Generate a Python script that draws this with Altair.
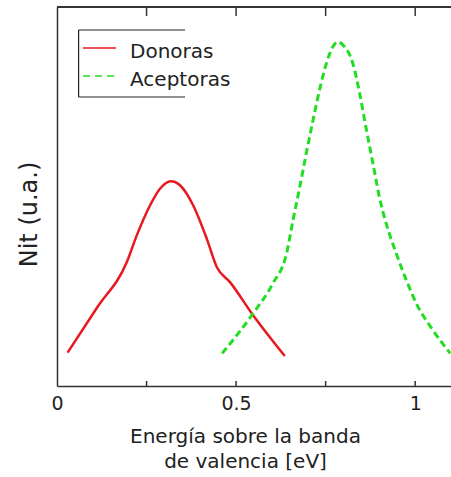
import altair as alt
import pandas as pd

# Series: Nit density of trap states vs energy above the valence band
donor_x = [0.0295, 0.112, 0.195, 0.223, 0.260, 0.288, 0.318, 0.344, 0.380, 0.418, 0.446, 0.483, 0.548, 0.636]
donor_y = [0.088, 0.207, 0.327, 0.398, 0.477, 0.521, 0.540, 0.529, 0.477, 0.389, 0.314, 0.274, 0.186, 0.079]

acceptor_x = [0.461, 0.548, 0.603, 0.641, 0.659, 0.678, 0.696, 0.715, 0.733, 0.752, 0.770, 0.784,
              0.798, 0.826, 0.845, 0.864, 0.882, 0.900, 0.919, 0.947, 0.975, 1.003, 1.049, 1.098]
acceptor_y = [0.086, 0.192, 0.271, 0.350, 0.438, 0.526, 0.614, 0.702, 0.781, 0.851, 0.895, 0.908,
              0.900, 0.851, 0.772, 0.675, 0.588, 0.499, 0.429, 0.350, 0.280, 0.218, 0.148, 0.086]

series_names = ["Donoras", "Aceptoras"]
series_colors = ["#e8181e", "#22dd22"]

tick_values = [0.25, 0.5, 0.75, 1.0]
label_values = [0, 0.5, 1]

x_title = ["Energía sobre la banda", "de valencia [eV]"]
y_title = "Nit (u.a.)"

W, H = 394, 379
FONT = "DejaVu Sans"

rows = []
for i, (x, y) in enumerate(zip(donor_x, donor_y)):
    rows.append({"serie": series_names[0], "e": x, "n": y, "i": i})
for i, (x, y) in enumerate(zip(acceptor_x, acceptor_y)):
    rows.append({"serie": series_names[1], "e": x, "n": y, "i": i})
df = pd.DataFrame(rows)

xscale = alt.Scale(domain=[0, 1.1], nice=False, zero=False)
yscale = alt.Scale(domain=[0, 1], nice=False)

xaxis = alt.Axis(
    values=label_values, format="~g", ticks=False, grid=False,
    domainColor="#333333", domainWidth=1.5, labelFlush=False,
    labelFont=FONT, labelFontSize=19, labelColor="#222222", labelPadding=8,
    title=x_title, titleFont=FONT, titleFontSize=20, titleFontWeight="normal",
    titleColor="#222222", titleLineHeight=25, titleX=188, titleY=56,
    titleBaseline="alphabetic", titleAlign="center",
)
yaxis = alt.Axis(
    labels=False, ticks=False, grid=False,
    domainColor="#333333", domainWidth=1.5,
    title=y_title, titleFont=FONT, titleFontSize=24, titleFontWeight="normal",
    titleColor="#222222", titleX=-28, titleY=207, titleAngle=-90,
    titleBaseline="middle", titleAlign="center",
)

color = alt.Color("serie:N", scale=alt.Scale(domain=series_names, range=series_colors), legend=None)

donor = alt.Chart(df[df.serie == series_names[0]]).mark_line(
    strokeWidth=2.5, interpolate="monotone"
).encode(
    x=alt.X("e:Q", scale=xscale, axis=xaxis),
    y=alt.Y("n:Q", scale=yscale, axis=yaxis),
    order="i:Q",
    color=color,
)
acceptor = alt.Chart(df[df.serie == series_names[1]]).mark_line(
    strokeWidth=3, strokeDash=[7, 4], interpolate="monotone"
).encode(
    x=alt.X("e:Q", scale=xscale),
    y=alt.Y("n:Q", scale=yscale),
    order="i:Q",
    color=color,
)

# inward ticks on bottom and top edges
tick_df = pd.DataFrame({"t": tick_values})
bottom_ticks = alt.Chart(tick_df).mark_rule(color="#333333", strokeWidth=1.5).encode(
    x=alt.X("t:Q", scale=xscale), y=alt.value(H), y2=alt.value(H - 5)
)
top_ticks = alt.Chart(tick_df).mark_rule(color="#333333", strokeWidth=1.5).encode(
    x=alt.X("t:Q", scale=xscale), y=alt.value(0), y2=alt.value(9)
)
top_edge = alt.Chart(tick_df).mark_rule(color="#333333", strokeWidth=1.5).encode(
    x=alt.value(0), x2=alt.value(W), y=alt.value(0)
)

# legend: open box, line samples and labels
box = pd.DataFrame({"k": [0]})
box_left = alt.Chart(box).mark_rule(color="#222222", strokeWidth=1.2).encode(
    x=alt.value(21.6), y=alt.value(23), y2=alt.value(90)
)
box_top = alt.Chart(box).mark_rule(color="#222222", strokeWidth=1.2).encode(
    x=alt.value(21.6), x2=alt.value(128), y=alt.value(23)
)
box_bottom = alt.Chart(box).mark_rule(color="#222222", strokeWidth=1.2).encode(
    x=alt.value(21.6), x2=alt.value(128), y=alt.value(90)
)
leg_red = alt.Chart(box).mark_rule(color=series_colors[0], strokeWidth=1.5).encode(
    x=alt.value(26), x2=alt.value(59), y=alt.value(41)
)
leg_green = alt.Chart(box).mark_rule(color=series_colors[1], strokeWidth=1.5, strokeDash=[7, 5]).encode(
    x=alt.value(26), x2=alt.value(59), y=alt.value(69)
)
leg_t1 = alt.Chart(pd.DataFrame({"s": [series_names[0]]})).mark_text(
    font=FONT, fontSize=20, color="#222222", align="left", baseline="alphabetic"
).encode(x=alt.value(73), y=alt.value(51), text="s:N")
leg_t2 = alt.Chart(pd.DataFrame({"s": [series_names[1]]})).mark_text(
    font=FONT, fontSize=20, color="#222222", align="left", baseline="alphabetic"
).encode(x=alt.value(73), y=alt.value(79), text="s:N")

chart = alt.layer(
    donor, acceptor, bottom_ticks, top_ticks, top_edge,
    box_left, box_top, box_bottom, leg_red, leg_green, leg_t1, leg_t2,
).properties(
    width=W, height=H,
    autosize=alt.AutoSizeParams(type="none"),
    padding={"left": 57, "top": 7, "right": 0, "bottom": 91},
    background="white",
).configure_view(stroke=None)

chart.save("out.html", embed_options={"renderer": "svg", "actions": False})
